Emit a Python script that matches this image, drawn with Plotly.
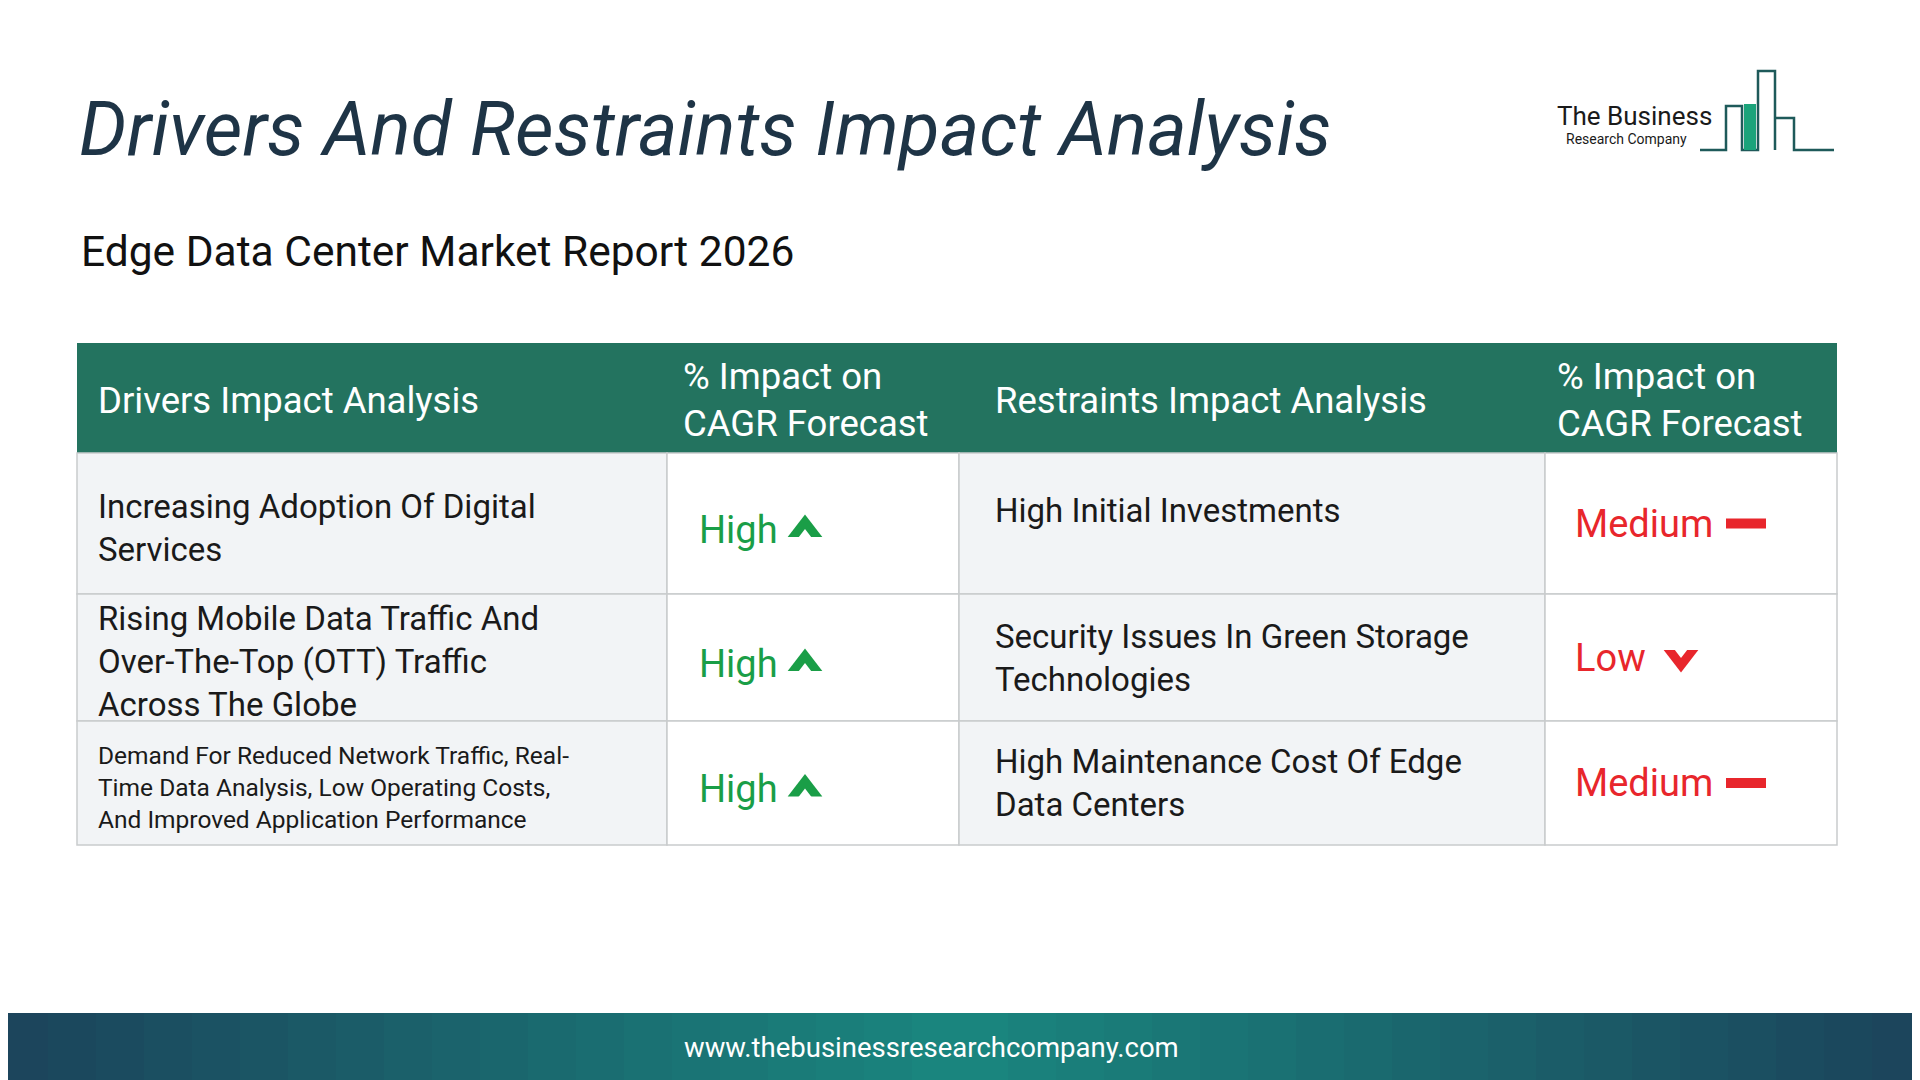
import plotly.graph_objects as go

title = "Drivers And Restraints Impact Analysis"
subtitle = "Edge Data Center Market Report 2026"
headers = ["Drivers Impact Analysis", "% Impact on<br>CAGR Forecast", "Restraints Impact Analysis", "% Impact on<br>CAGR Forecast"]
drivers = ["Increasing Adoption Of Digital<br>Services",
           "Rising Mobile Data Traffic And<br>Over-The-Top (OTT) Traffic<br>Across The Globe",
           "Demand For Reduced Network Traffic, Real-<br>Time Data Analysis, Low Operating Costs,<br>And Improved Application Performance"]
driver_impact = ["High", "High", "High"]
restraints = ["High Initial Investments",
              "Security Issues In Green Storage<br>Technologies",
              "High Maintenance Cost Of Edge<br>Data Centers"]
restraint_impact = ["Medium", "Low", "Medium"]
footer = "www.thebusinessresearchcompany.com"

W, H = 1920, 1080
O = 8
cols = [c - O for c in [77, 667, 959, 1545, 1837]]
rows = [r - O for r in [343, 453, 594, 721, 845]]
hdr_off = [19, 14, 34, 10]
GREEN, RED = "#1a9e47", "#e8262c"
FONT = "Roboto"

fig = go.Figure()
shapes, ann = [], []
shapes.append(dict(type="rect", x0=cols[0], x1=cols[4], y0=rows[0], y1=rows[1], fillcolor="#23735f", line_width=0, layer="below"))
for i, h in enumerate(headers):
    ann.append(dict(x=cols[i] + hdr_off[i], y=(rows[0] + rows[1]) / 2 + 2, text=h, xanchor="left", yanchor="middle", align="left",
                    showarrow=False, font=dict(family=FONT, size=36.5, color="white")))


def chevron(x, y, up, color):
    sym = "triangle-up" if up else "triangle-down"
    d = 7 if up else -7
    fig.add_trace(go.Scatter(x=[x], y=[y], mode="markers", marker=dict(symbol=sym, size=30, color=color),
                             showlegend=False, hoverinfo="skip"))
    fig.add_trace(go.Scatter(x=[x], y=[y + d], mode="markers", marker=dict(symbol=sym, size=15, color="white"),
                             showlegend=False, hoverinfo="skip"))


for r in range(3):
    y0, y1 = rows[r + 1], rows[r + 2]
    for c in range(4):
        fill = "#f2f4f6" if c in (0, 2) else "white"
        shapes.append(dict(type="rect", x0=cols[c], x1=cols[c + 1], y0=y0, y1=y1, fillcolor=fill,
                           line=dict(color="#c9cbcd", width=1.5), layer="below"))
    ym = (y0 + y1) / 2
    ann.append(dict(x=cols[0] + 19, y=ym + 4, text=drivers[r], xanchor="left", yanchor="middle", align="left", showarrow=False,
                    font=dict(family=FONT, size=24.5 if r == 2 else 33, color="#1a1a1a")))
    ry = y0 + 57 if r == 0 else ym
    ann.append(dict(x=cols[2] + 34, y=ry, text=restraints[r], xanchor="left", yanchor="middle", align="left", showarrow=False,
                    font=dict(family=FONT, size=33, color="#1a1a1a")))
    ann.append(dict(x=cols[1] + 30, y=ym + 6, text=driver_impact[r], xanchor="left", yanchor="middle", showarrow=False,
                    font=dict(family=FONT, size=38, color=GREEN)))
    chevron(cols[1] + 138, ym + 6, True, GREEN)
    v = restraint_impact[r]
    ann.append(dict(x=cols[3] + 28, y=ym, text=v, xanchor="left", yanchor="middle", showarrow=False,
                    font=dict(family=FONT, size=38, color=RED)))
    if v == "Medium":
        shapes.append(dict(type="rect", x0=cols[3] + 181, x1=cols[3] + 221, y0=ym - 5, y1=ym + 5, fillcolor=RED, line_width=0))
    else:
        chevron(cols[3] + 136, ym, False, RED)

ann.append(dict(x=77 - O, y=129 - O, text="<i>" + title + "</i>", xanchor="left", yanchor="middle", showarrow=False,
                font=dict(family=FONT, size=75, color="#1e3446")))
ann.append(dict(x=79 - O, y=251 - O, text=subtitle, xanchor="left", yanchor="middle", showarrow=False,
                font=dict(family=FONT, size=42.5, color="#111111")))
ann.append(dict(x=1555 - O, y=116 - O, text="The Business", xanchor="left", yanchor="middle", showarrow=False,
                font=dict(family=FONT, size=26, color="#1a1a1a")))
ann.append(dict(x=1564 - O, y=139 - O, text="Research Company", xanchor="left", yanchor="middle", showarrow=False,
                font=dict(family=FONT, size=14, color="#1a1a1a")))
lc = "#1e5a5a"
px = lambda x: x - O
shapes.append(dict(type="path",
                   path=f"M{px(1700)},142 L{px(1726)},142 L{px(1726)},98 L{px(1742)},98 L{px(1742)},142 L{px(1758)},142 L{px(1758)},63 L{px(1775)},63 L{px(1775)},142 L{px(1775)},110 L{px(1794)},110 L{px(1794)},142 L{px(1834)},142",
                   line=dict(color=lc, width=2.5)))
shapes.append(dict(type="rect", x0=px(1744), x1=px(1756), y0=96, y1=142, fillcolor="#1aa37a", line_width=0))
n = 40
for i in range(n):
    t = i / (n - 1)
    mid = 1 - abs(2 * t - 1)
    r_ = int(0x1c + (0x1a - 0x1c) * mid); g_ = int(0x45 + (0x87 - 0x45) * mid); b_ = int(0x5c + (0x7f - 0x5c) * mid)
    shapes.append(dict(type="rect", x0=W * i / n - O, x1=W * (i + 1) / n + 1, y0=1013 - O, y1=1080,
                       fillcolor=f"rgb({r_},{g_},{b_})", line_width=0, layer="below"))
ann.append(dict(x=931 - O, y=1047 - O, text=footer, xanchor="center", yanchor="middle", showarrow=False,
                font=dict(family=FONT, size=27.5, color="white")))

fig.update_layout(width=W, height=H, margin=dict(l=0, r=0, t=0, b=0), plot_bgcolor="white", paper_bgcolor="white",
                  shapes=shapes, annotations=ann,
                  xaxis=dict(range=[0, W], visible=False, fixedrange=True),
                  yaxis=dict(range=[H, 0], visible=False, fixedrange=True))
fig.write_html("out.html", config={"displayModeBar": False})
